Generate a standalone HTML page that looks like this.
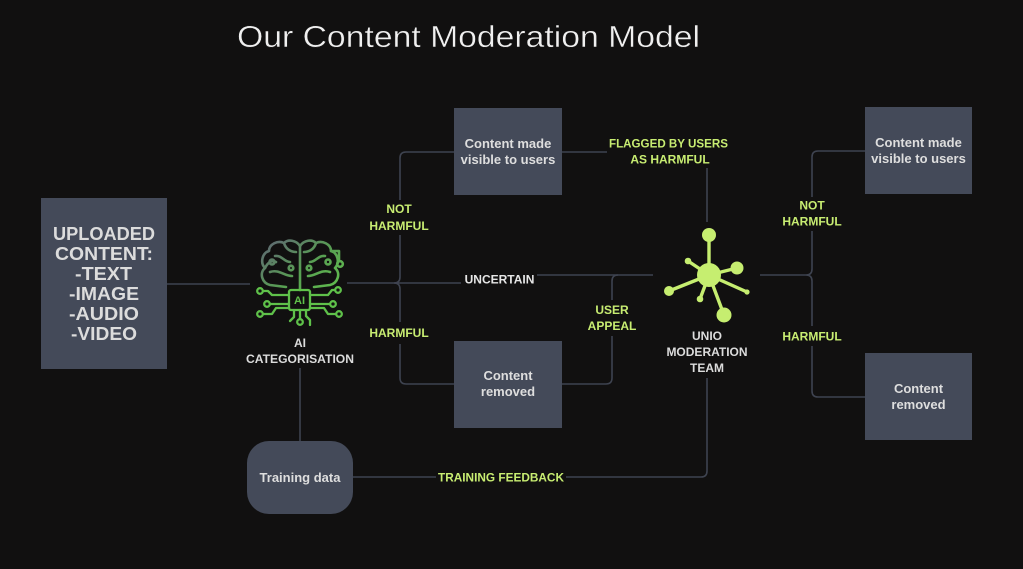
<!DOCTYPE html>
<html><head><meta charset="utf-8"><style>
html,body{margin:0;padding:0;background:#111010;}
svg{display:block;}
text{font-family:"Liberation Sans",sans-serif;}
.lab{fill:#c8ed72;font-weight:bold;font-size:12px;text-anchor:middle;}
.nt{fill:#dedede;font-weight:bold;font-size:13px;text-anchor:middle;}
.wt{fill:#dcdcdc;font-weight:bold;font-size:12px;text-anchor:middle;}
.up{fill:#dcdcdc;font-weight:bold;font-size:18px;text-anchor:middle;}
.ln{stroke:#3e4350;stroke-width:1.6;fill:none;}
.box{fill:#444a59;}
</style></head><body>
<svg width="1023" height="569" viewBox="0 0 1023 569" xmlns="http://www.w3.org/2000/svg">
<defs>
<linearGradient id="bg" gradientUnits="userSpaceOnUse" x1="262" y1="242" x2="322" y2="318">
<stop offset="0" stop-color="#5f6674"/><stop offset="0.5" stop-color="#58a052"/><stop offset="1" stop-color="#64c84c"/>
</linearGradient>
</defs>
<rect width="1023" height="569" fill="#111010"/>
<text x="237" y="47" font-size="31" fill="#f0f0f0" stroke="#111010" stroke-width="0.4" textLength="463" lengthAdjust="spacingAndGlyphs">Our Content Moderation Model</text>

<!-- connectors -->
<path class="ln" d="M167 284 H250"/>
<path class="ln" d="M347 283 H394"/>
<path class="ln" d="M454 152 H406 Q400 152 400 158 V200"/>
<path class="ln" d="M400 235 V277 Q400 283 394 283 Q400 283 400 289 V322"/>
<path class="ln" d="M400 344 V378 Q400 384 406 384 H454"/>
<path class="ln" d="M394 283 H461"/>
<path class="ln" d="M537 275 H653"/>
<path class="ln" d="M618 275 Q612 275 612 281 V300"/>
<path class="ln" d="M612 336 V378 Q612 384 606 384 H562"/>
<path class="ln" d="M562 152 H607"/>
<path class="ln" d="M707 168 V222"/>
<path class="ln" d="M760 275 H806"/>
<path class="ln" d="M865 151 H818 Q812 151 812 157 V197"/>
<path class="ln" d="M812 231 V269 Q812 275 806 275 Q812 275 812 281 V326"/>
<path class="ln" d="M812 346 V391 Q812 397 818 397 H865"/>
<path class="ln" d="M707 378 V471 Q707 477 701 477 H566"/>
<path class="ln" d="M436 477 H353"/>
<path class="ln" d="M300 368 V441"/>

<!-- uploaded box -->
<rect class="box" x="41" y="198" width="126" height="171"/>
<text class="up" x="104" y="240" textLength="102" lengthAdjust="spacingAndGlyphs">UPLOADED</text>
<text class="up" x="104" y="260" textLength="98" lengthAdjust="spacingAndGlyphs">CONTENT:</text>
<text class="up" x="103.5" y="280" textLength="57" lengthAdjust="spacingAndGlyphs">-TEXT</text>
<text class="up" x="104" y="300" textLength="70" lengthAdjust="spacingAndGlyphs">-IMAGE</text>
<text class="up" x="104" y="320" textLength="70" lengthAdjust="spacingAndGlyphs">-AUDIO</text>
<text class="up" x="104" y="340" textLength="66" lengthAdjust="spacingAndGlyphs">-VIDEO</text>

<!-- brain icon -->
<g fill="none" stroke="url(#bg)" stroke-width="2.6" stroke-linecap="round" stroke-linejoin="round">
<path d="M300 246 C296 240 288 239 284 243 C278 240 269 244 269 251 C262 253 260 263 265 268 C259 273 262 283 270 285 L286 287"/>
<path d="M300 246 C304 240 312 239 316 243 C322 240 331 244 331 251 C338 253 340 263 335 268 C341 273 338 283 330 285 L314 287"/>
<path d="M300 246 V290"/>
<path d="M275 256 C282 255 284 262 290 262"/>
<path d="M270 272 C279 269 284 276 292 276"/>
<path d="M325 256 C318 255 316 262 310 262"/>
<path d="M330 272 C321 269 316 276 308 276"/>
<path d="M284 243 C286 250 292 252 296 252"/>
<path d="M316 243 C314 250 308 252 304 252"/>
<path d="M331 251 H339 V261"/>
<path d="M265 268 C268 262 272 260 276 262"/>
<circle cx="340" cy="264" r="2.8"/>
<circle cx="272" cy="262" r="2.5"/>
<circle cx="328" cy="262" r="2.5"/>
<circle cx="291" cy="268" r="2.3"/>
<circle cx="309" cy="268" r="2.3"/>
</g>
<g fill="none" stroke="#5fc14a" stroke-width="2.3" stroke-linecap="round" stroke-linejoin="round">
<rect x="289" y="290" width="21" height="20" rx="2"/>
<path d="M289 295 H272 L268 291 H263"/>
<circle cx="260" cy="291" r="2.8"/>
<path d="M289 304 H270"/>
<circle cx="267" cy="304" r="2.8"/>
<path d="M289 308 H276 L272 314 H263"/>
<circle cx="260" cy="314" r="2.8"/>
<path d="M310 295 H328 L332 290 H335"/>
<circle cx="338" cy="290" r="2.8"/>
<path d="M310 304 H330"/>
<circle cx="333" cy="304" r="2.8"/>
<path d="M310 308 H324 L328 314 H336"/>
<circle cx="339" cy="314" r="2.8"/>
<path d="M300 310 V319"/>
<circle cx="300" cy="322" r="2.8"/>
<path d="M294 310 V317 L290 321"/>
<path d="M306 310 V316 L310 320 V325"/>
</g>
<text x="299.5" y="304" fill="#5fc14a" font-size="11" font-weight="bold" text-anchor="middle">AI</text>
<text class="wt" x="300" y="347">AI</text>
<text class="wt" x="300" y="363" textLength="108" lengthAdjust="spacingAndGlyphs">CATEGORISATION</text>

<!-- middle boxes -->
<rect class="box" x="454" y="108" width="108" height="87"/>
<text class="nt" x="508" y="148">Content made</text>
<text class="nt" x="508" y="164">visible to users</text>
<rect class="box" x="454" y="341" width="108" height="87"/>
<text class="nt" x="508" y="380">Content</text>
<text class="nt" x="508" y="396">removed</text>

<!-- training data -->
<rect class="box" x="247" y="441" width="106" height="73" rx="22"/>
<text class="nt" x="300" y="482">Training data</text>

<!-- labels -->
<text class="lab" x="399" y="213">NOT</text>
<text class="lab" x="399" y="230">HARMFUL</text>
<text class="lab" x="399" y="337">HARMFUL</text>
<text x="499.5" y="283.5" fill="#e6e6e6" font-weight="bold" font-size="12" text-anchor="middle">UNCERTAIN</text>
<text class="lab" x="612" y="314">USER</text>
<text class="lab" x="612" y="330">APPEAL</text>
<text class="lab" x="668.5" y="147.5" textLength="119" lengthAdjust="spacingAndGlyphs">FLAGGED  BY USERS</text>
<text class="lab" x="670" y="163.5">AS HARMFUL</text>
<text class="lab" x="812" y="209.5">NOT</text>
<text class="lab" x="812" y="225.5">HARMFUL</text>
<text class="lab" x="812" y="340.5">HARMFUL</text>
<text class="lab" x="501" y="481.5" textLength="126" lengthAdjust="spacingAndGlyphs">TRAINING FEEDBACK</text>

<!-- UNIO icon -->
<g stroke="#c6ee70" stroke-width="3.4" stroke-linecap="round">
<line x1="709" y1="275" x2="709" y2="235"/>
<line x1="709" y1="275" x2="737" y2="268"/>
<line x1="709" y1="275" x2="724" y2="315"/>
<line x1="709" y1="275" x2="669" y2="291"/>
<line x1="709" y1="275" x2="688" y2="261"/>
<line x1="709" y1="275" x2="700" y2="299"/>
<line x1="709" y1="275" x2="747" y2="292"/>
</g>
<g fill="#c6ee70">
<circle cx="709" cy="275" r="12"/>
<circle cx="709" cy="235" r="7"/>
<circle cx="737" cy="268" r="6.5"/>
<circle cx="724" cy="315" r="7.5"/>
<circle cx="669" cy="291" r="5"/>
<circle cx="688" cy="261" r="3.3"/>
<circle cx="700" cy="299" r="3.3"/>
<circle cx="747" cy="292" r="2.6"/>
</g>
<text class="wt" x="707" y="340">UNIO</text>
<text class="wt" x="707" y="356">MODERATION</text>
<text class="wt" x="707" y="372">TEAM</text>

<!-- right boxes -->
<rect class="box" x="865" y="107" width="107" height="87"/>
<text class="nt" x="918.5" y="147">Content made</text>
<text class="nt" x="918.5" y="163">visible to users</text>
<rect class="box" x="865" y="353" width="107" height="87"/>
<text class="nt" x="918.5" y="393">Content</text>
<text class="nt" x="918.5" y="409">removed</text>
</svg>
</body></html>
